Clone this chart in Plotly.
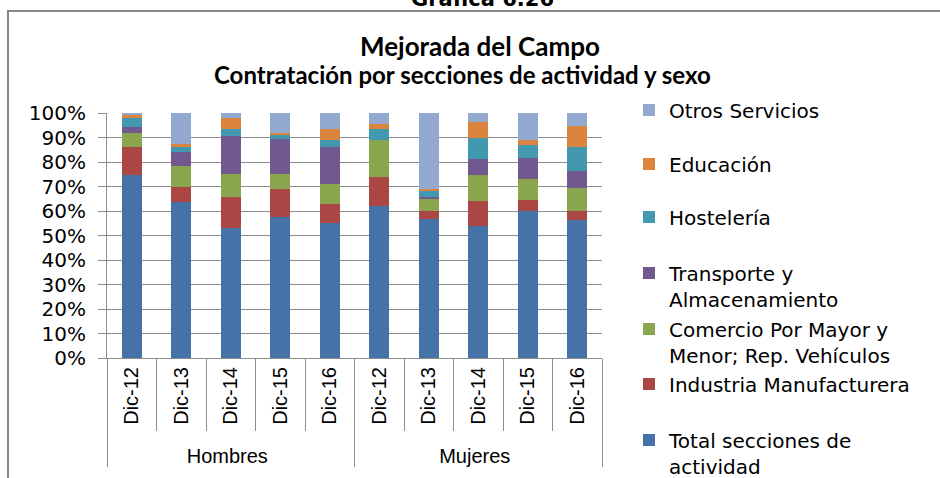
import plotly.graph_objects as go

# Grupos (sexo) y periodos
grupos = ["Hombres"] * 5 + ["Mujeres"] * 5
periodos = ["Dic-12", "Dic-13", "Dic-14", "Dic-15", "Dic-16"] * 2

# Porcentaje de contratos por sección de actividad (Hombres Dic-12..16, Mujeres Dic-12..16)
total_secciones = [74.8, 63.7, 52.9, 57.6, 55.0, 61.9, 56.8, 53.8, 60.2, 56.3]
industria = [11.2, 6.3, 12.9, 11.3, 7.8, 12.0, 3.4, 10.3, 4.3, 3.8]
comercio = [6.0, 8.2, 9.5, 6.4, 8.1, 15.2, 4.7, 10.7, 8.6, 9.1]
transporte = [2.2, 6.0, 15.4, 14.1, 15.2, 0.0, 1.0, 6.5, 8.6, 7.3]
hosteleria = [3.8, 2.0, 2.9, 1.7, 3.0, 4.5, 2.3, 8.6, 5.2, 9.8]
educacion = [1.0, 1.1, 4.5, 0.9, 4.2, 1.9, 0.7, 6.6, 2.2, 8.2]
otros = [1.0, 12.7, 1.9, 8.0, 6.7, 4.5, 31.1, 3.5, 10.9, 5.5]

y_ticks = list(range(0, 101, 10))
y_tick_labels = [f"{v}%" for v in y_ticks]

series = [
    ("Total secciones de<br>actividad", total_secciones, "#4572A7"),
    ("Industria Manufacturera", industria, "#AA4643"),
    ("Comercio Por Mayor y<br>Menor; Rep. Vehículos", comercio, "#89A54E"),
    ("Transporte y<br>Almacenamiento", transporte, "#71588F"),
    ("Hostelería", hosteleria, "#4198AF"),
    ("Educación", educacion, "#DB843D"),
    ("Otros Servicios", otros, "#93A9CF"),
]

# Geometría del área de trazado (px)
W, H = 940, 478
L, R, T, B = 107, 602, 113, 358


def px_x(p):
    return (p - L) / (R - L)


def px_y(p):
    return (B - p) / (B - T)


# Centro vertical de cada entrada de la leyenda (px)
legend_centers = [453, 384, 342, 286, 217, 164, 110]

fig = go.Figure()
legend_layouts = {}
for i, ((name, vals, color), cy) in enumerate(zip(series, legend_centers)):
    lg = "legend" if i == 0 else f"legend{i + 1}"
    fig.add_trace(go.Bar(
        x=[grupos, periodos], y=vals, name=name, legend=lg,
        marker=dict(color=color, line=dict(width=0)),
    ))
    legend_layouts[lg] = dict(
        x=px_x(629), y=px_y(cy), xanchor="left", yanchor="middle",
        xref="paper", yref="paper", bgcolor="rgba(0,0,0,0)",
        font=dict(family="DejaVu Sans", size=20, color="#000000"),
        valign="top", itemsizing="constant", tracegroupgap=0,
    )

fig.update_layout(
    width=W, height=H,
    margin=dict(l=L, r=W - R, t=T, b=H - B, pad=0, autoexpand=False),
    barmode="stack", bargap=0.6,
    plot_bgcolor="white", paper_bgcolor="white",
    showlegend=True,
    **legend_layouts,
)

fig.update_yaxes(
    range=[0, 100], tickvals=y_ticks, ticktext=y_tick_labels,
    showgrid=True, gridcolor="#8c8c8c", gridwidth=1,
    showline=True, linecolor="#8c8c8c", linewidth=1,
    ticks="outside", ticklen=8, tickcolor="#8c8c8c",
    ticklabelstandoff=8,
    tickfont=dict(family="DejaVu Sans", size=20, color="#000000"),
    zeroline=False, automargin=False,
)

fig.update_xaxes(
    type="multicategory", automargin=False,
    showline=True, linecolor="#8c8c8c", linewidth=1,
    ticks="outside", tickson="boundaries", ticklen=72, tickcolor="#8c8c8c",
    tickangle=-90,
    showdividers=True, dividercolor="#8c8c8c", dividerwidth=1,
    tickfont=dict(family="Liberation Sans", size=20, color="#000000"),
    showgrid=False,
)

# Título (dos líneas)
fig.add_annotation(
    x=px_x(480), y=px_y(46), xref="paper", yref="paper",
    text="<b>Mejorada del Campo</b>",
    showarrow=False, xanchor="center", yanchor="middle",
    font=dict(family="Lato", size=26, color="#000000"),
)
fig.add_annotation(
    x=px_x(462), y=px_y(75), xref="paper", yref="paper",
    text="<b>Contratación por secciones de actividad y sexo</b>",
    showarrow=False, xanchor="center", yanchor="middle",
    font=dict(family="Lato", size=24, color="#000000"),
)
fig.add_annotation(
    x=px_x(482), y=px_y(-1), xref="paper", yref="paper",
    text="<b>Gráfica 6.26</b>", showarrow=False,
    xanchor="center", yanchor="middle",
    font=dict(family="DejaVu Sans", size=21, color="#000000"),
)

# Marco exterior
fig.add_shape(
    type="path", xref="paper", yref="paper",
    path=f"M {px_x(8)} {px_y(490)} L {px_x(8)} {px_y(11)} L {px_x(960)} {px_y(11)}",
    line=dict(color="#878787", width=2),
)

fig.write_html("out.html")
